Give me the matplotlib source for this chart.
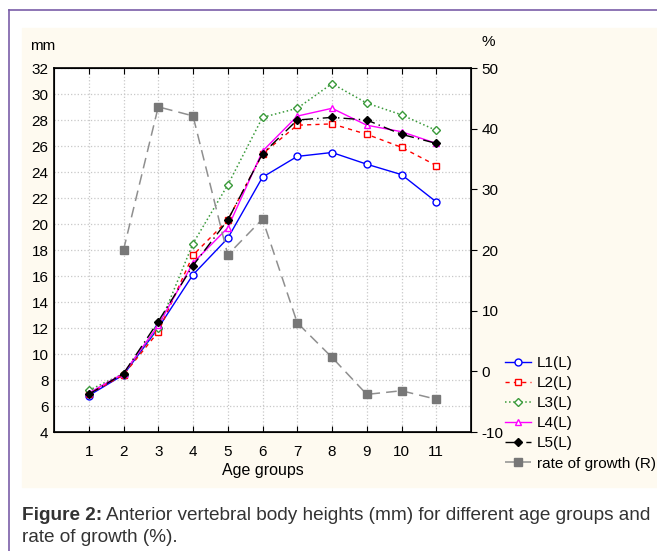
import matplotlib
matplotlib.use("Agg")
import matplotlib.pyplot as plt
from matplotlib import font_manager
from matplotlib.patches import Rectangle
from matplotlib.lines import Line2D

names = {f.name for f in font_manager.fontManager.ttflist}
if 'Liberation Sans Narrow' in names:
    plt.rcParams['font.family'] = ['Liberation Sans Narrow', 'DejaVu Sans']
    fs = 12
else:
    plt.rcParams['font.family'] = ['Liberation Sans', 'DejaVu Sans']
    fs = 11
plt.rcParams['axes.unicode_minus'] = False

# age groups
groups = [1, 2, 3, 4, 5, 6, 7, 8, 9, 10, 11]

# vertebral heights (mm), left axis
L1 = [6.8, 8.4, 12.0, 16.1, 18.9, 23.6, 25.2, 25.5, 24.6, 23.8, 21.7]
L2 = [6.9, 8.4, 11.7, 17.6, 20.3, 25.4, 27.6, 27.7, 26.9, 25.9, 24.5]
L3 = [7.2, 8.5, 12.0, 18.5, 23.0, 28.2, 28.9, 30.8, 29.3, 28.4, 27.2]
L4 = [7.0, 8.5, 12.2, 17.0, 19.7, 25.6, 28.3, 28.9, 27.6, 27.1, 26.2]
L5 = [6.9, 8.5, 12.5, 16.8, 20.3, 25.4, 28.0, 28.2, 28.0, 26.9, 26.2]

# rate of growth (%), right axis, starts at group 2
rate_groups = [2, 3, 4, 5, 6, 7, 8, 9, 10, 11]
rate = [20.0, 43.6, 42.1, 19.2, 25.1, 8.0, 2.3, -3.8, -3.2, -4.6]

W, H = 657, 551
fig = plt.figure(figsize=(W / 100, H / 100), dpi=100)

# background frame + cream panel
fig.patches.append(Rectangle((22 / W, 1 - 487 / H), 1 - 22 / W, (487 - 28) / H,
                             transform=fig.transFigure, color='#fefaf0', zorder=0))
fig.lines.append(Line2D([9 / W, 1], [1 - 10 / H, 1 - 10 / H], transform=fig.transFigure,
                        color='#7a5ea8', lw=1.2))
fig.lines.append(Line2D([9 / W, 9 / W], [0, 1 - 10 / H], transform=fig.transFigure,
                        color='#7a5ea8', lw=1.2))

ax = fig.add_axes([54 / W, 1 - 432 / H, (471 - 54) / W, (432 - 68) / H])
ax.set_facecolor('white')
ax.set_zorder(2)

ms = 5
ax.plot(groups, L1, color='blue', lw=1, ls='-', marker='o', ms=ms, mfc='white', mec='blue', label='L1(L)', zorder=5)
ax.plot(groups, L2, color='red', lw=1, ls=(0, (3, 3)), marker='s', ms=ms, mfc='white', mec='red', label='L2(L)', zorder=5)
ax.plot(groups, L3, color='#3a9a3a', lw=1.1, ls=':', marker='D', ms=ms - 0.5, mfc='white', mec='#3a9a3a', label='L3(L)', zorder=5)
ax.plot(groups, L4, color='magenta', lw=1, ls='-', marker='^', ms=ms, mfc='white', mec='magenta', label='L4(L)', zorder=5)
ax.plot(groups, L5, color='black', lw=1, ls=(0, (8, 3, 1, 3)), marker='D', ms=ms - 0.5, mfc='black', mec='black', label='L5(L)', zorder=6)

ax.set_xlim(0, 12)
ax.set_ylim(4, 32)
ax.set_xticks(groups)
ax.set_yticks(range(4, 33, 2))
ax.grid(True, color='#c8c8c8', ls=':', lw=0.9)
ax.set_axisbelow(True)
ax.tick_params(axis='x', direction='in', top=True, length=4, labelsize=fs, pad=9)
ax.tick_params(axis='y', direction='in', length=0, labelsize=fs, pad=4)
ax.set_xlabel('Age groups', fontsize=fs + 0.5, labelpad=3)
for s in ax.spines.values():
    s.set_linewidth(1.2)

ax2 = ax.twinx()
ax2.set_zorder(3)
ax2.plot(rate_groups, rate, color='#8f8f8f', lw=1.1, ls=(0, (7, 4)), marker='s', ms=6,
         mfc='#777777', mec='#777777', label='rate of growth (R)')
ax2.set_ylim(-10, 50)
ax2.set_yticks(range(-10, 51, 10))
ax2.tick_params(axis='y', direction='out', length=4, labelsize=fs)

fig.text(30 / W, 1 - 46 / H, 'mm', fontsize=fs, va='center', ha='left')
fig.text(481 / W, 1 - 42 / H, '%', fontsize=fs, va='center', ha='left')

h1, l1 = ax.get_legend_handles_labels()
h2, l2 = ax2.get_legend_handles_labels()
fig.legend(h1 + h2, l1 + l2, loc='upper left', bbox_to_anchor=(505 / W, 1 - 356 / H),
           frameon=False, fontsize=fs, handlelength=1.7, handletextpad=0.4, labelspacing=0.4,
           borderaxespad=0, borderpad=0)

# caption: bold label then plain text right after it
cap_kw = dict(fontsize=13.7, va='center', ha='left', color='#333333', family='Liberation Sans')
bold = fig.text(22 / W, 1 - 515 / H, 'Figure 2:', fontweight='bold', **cap_kw)
fig.canvas.draw()
bb = bold.get_window_extent(fig.canvas.get_renderer())
fig.text((bb.x1 + 4) / W, 1 - 515 / H,
         'Anterior vertebral body heights (mm) for different age groups and', **cap_kw)
fig.text(22 / W, 1 - 537 / H, 'rate of growth (%).', **cap_kw)

fig.savefig('out.png', dpi=100)
